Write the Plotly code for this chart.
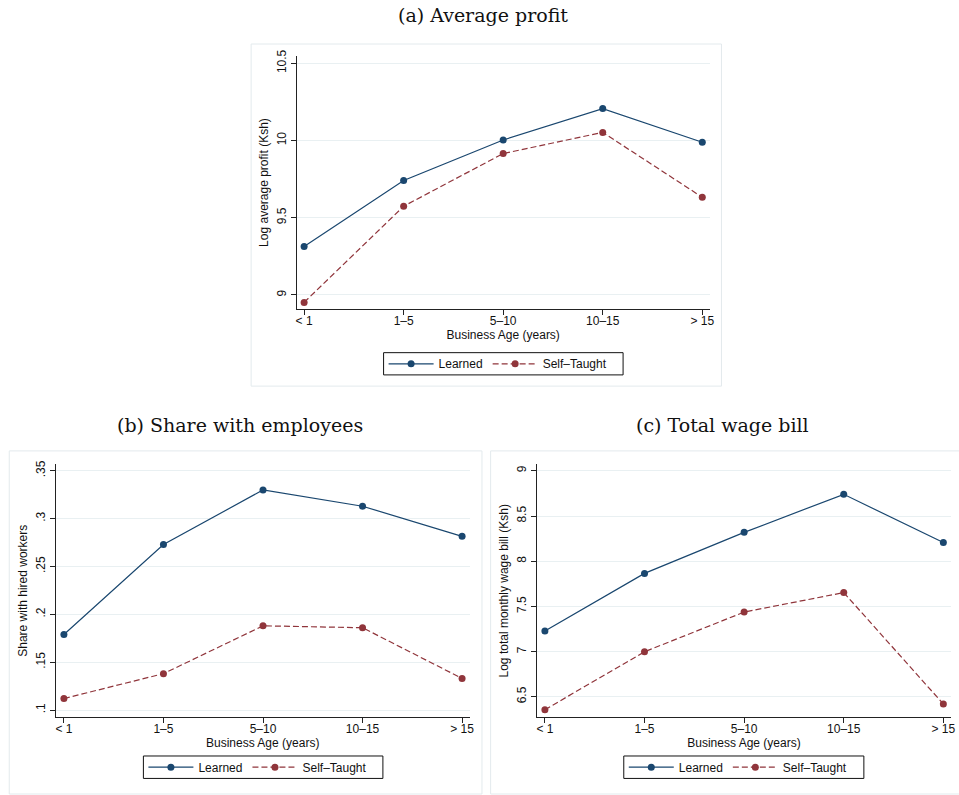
import plotly.graph_objects as go

# ---------------- data ----------------
categories = ["< 1", "1–5", "5–10", "10–15", "> 15"]

profit_learned = [9.313, 9.741, 10.003, 10.206, 9.988]
profit_self = [8.951, 9.574, 9.915, 10.052, 9.632]

share_learned = [0.179, 0.273, 0.330, 0.313, 0.2815]
share_self = [0.112, 0.138, 0.188, 0.186, 0.133]

wage_learned = [7.228, 7.865, 8.319, 8.740, 8.206]
wage_self = [6.357, 6.998, 7.437, 7.653, 6.420]

profit_ticks = [9, 9.5, 10, 10.5]
profit_labels = ["9", "9.5", "10", "10.5"]
share_ticks = [0.10, 0.15, 0.20, 0.25, 0.30, 0.35]
share_labels = [".1", ".15", ".2", ".25", ".3", ".35"]
wage_ticks = [6.5, 7, 7.5, 8, 8.5, 9]
wage_labels = ["6.5", "7", "7.5", "8", "8.5", "9"]

series_names = ["Learned", "Self–Taught"]
panel_titles = ["(a) Average profit", "(b) Share with employees", "(c) Total wage bill"]
y_titles = ["Log average profit (Ksh)", "Share with hired workers", "Log total monthly wage bill (Ksh)"]
x_title = "Business Age (years)"

# ---------------- style ----------------
NAVY = "#1a476f"
MAROON = "#90353b"
SANS = "Liberation Sans, Arial, Helvetica, sans-serif"
SERIF = "DejaVu Serif, serif"
GRID = "#e9f0f2"
AXIS = "#222222"
FS = 12

W, H = 959, 795

fig = go.Figure()

panels = [
    dict(xa="x", ya="y", leg="legend", learned=profit_learned, self_=profit_self),
    dict(xa="x2", ya="y2", leg="legend2", learned=share_learned, self_=share_self),
    dict(xa="x3", ya="y3", leg="legend3", learned=wage_learned, self_=wage_self),
]

for p in panels:
    fig.add_trace(go.Scatter(
        x=categories, y=p["learned"], name=series_names[0], mode="lines+markers",
        line=dict(color=NAVY, width=1.2), marker=dict(color=NAVY, size=7),
        xaxis=p["xa"], yaxis=p["ya"], legend=p["leg"], showlegend=True,
    ))
    fig.add_trace(go.Scatter(
        x=categories, y=p["self_"], name=series_names[1], mode="lines+markers",
        line=dict(color=MAROON, width=1.2, dash="6px,3px"), marker=dict(color=MAROON, size=7),
        xaxis=p["xa"], yaxis=p["ya"], legend=p["leg"], showlegend=True,
    ))


def px_x(v):
    return v / W


def px_y(v):
    return 1 - v / H


def xaxis_cfg(domain, rng, anchor):
    return dict(
        domain=domain, range=rng, anchor=anchor, type="category",
        showline=True, linecolor=AXIS, linewidth=1,
        ticks="outside", ticklen=5, tickcolor=AXIS, tickwidth=1,
        ticklabelstandoff=-5,
        showgrid=False, zeroline=False,
        tickfont=dict(family=SANS, size=FS, color="#111"),
        title=dict(text=x_title, font=dict(family=SANS, size=FS, color="#111"), standoff=2),
    )


def yaxis_cfg(domain, rng, anchor, tv, tt, title):
    return dict(
        domain=domain, range=rng, anchor=anchor,
        tickvals=tv, ticktext=tt, tickangle=-90,
        showline=True, linecolor=AXIS, linewidth=1,
        ticks="outside", ticklen=5, tickcolor=AXIS, tickwidth=1,
        showgrid=True, gridcolor=GRID, gridwidth=1, zeroline=False,
        tickfont=dict(family=SANS, size=FS, color="#111"),
        title=dict(text=title, font=dict(family=SANS, size=FS, color="#111"), standoff=3),
    )


dom_a_x = [px_x(297.7), px_x(713)]
dom_a_y = [px_y(305.7), px_y(50)]
dom_b_x = [px_x(55), px_x(471.7)]
dom_c_x = [px_x(539.3), px_x(956)]
dom_bc_y = [px_y(716.7), px_y(461.7)]

legend_common = dict(
    orientation="h", xanchor="left", yanchor="middle",
    borderwidth=0, bgcolor="rgba(0,0,0,0)",
    font=dict(family=SANS, size=FS, color="#111"),
    itemwidth=45,
    tracegroupgap=0,
)

# legend boxes (left, right, top, bottom) in px
legend_boxes = [
    (385, 626, 349.3, 371.7),
    (143.3, 384.3, 755.7, 778.3),
    (626.7, 868.3, 755.7, 778.3),
]

fig.update_layout(
    width=W, height=H,
    margin=dict(l=0, r=0, t=0, b=0),
    paper_bgcolor="white", plot_bgcolor="white",
    xaxis=xaxis_cfg(dom_a_x, [-0.073, 4.073], "y"),
    yaxis=yaxis_cfg(dom_a_y, [8.906, 10.549], "x", profit_ticks, profit_labels, y_titles[0]),
    xaxis2=xaxis_cfg(dom_b_x, [-0.083, 4.077], "y2"),
    yaxis2=yaxis_cfg(dom_bc_y, [0.0924, 0.3569], "x2", share_ticks, share_labels, y_titles[1]),
    xaxis3=xaxis_cfg(dom_c_x, [-0.08, 4.077], "y3"),
    yaxis3=yaxis_cfg(dom_bc_y, [6.273, 9.073], "x3", wage_ticks, wage_labels, y_titles[2]),
    showlegend=True,
)
for name, (l, r, t, b) in zip(["legend", "legend2", "legend3"], legend_boxes):
    fig.update_layout({name: dict(x=px_x(l), y=px_y((t + b) / 2), **legend_common)})
    fig.add_shape(type="rect", xref="paper", yref="paper",
                  x0=px_x(l), x1=px_x(r), y0=px_y(b), y1=px_y(t),
                  line=dict(color="#111", width=1))

# graph-region borders
BORDER = "#e3eaed"
for x0, x1, y0, y1 in [
    (251.7, 725, 38.3, 383),
    (8.3, 484, 448.3, 794),
    (492.7, 975, 448.3, 794),
]:
    fig.add_shape(type="rect", xref="paper", yref="paper",
                  x0=px_x(x0), x1=px_x(x1), y0=px_y(y1), y1=px_y(y0),
                  line=dict(color=BORDER, width=1), layer="below")

# panel titles
for txt, cx, cy in [
    (panel_titles[0], 485.5, 9),
    (panel_titles[1], 241, 422),
    (panel_titles[2], 726, 422),
]:
    fig.add_annotation(text=txt, xref="paper", yref="paper",
                       x=px_x(cx), y=px_y(cy), xanchor="center", yanchor="middle",
                       showarrow=False, font=dict(family=SERIF, size=19, color="#111"))

fig.write_html("out.html")
